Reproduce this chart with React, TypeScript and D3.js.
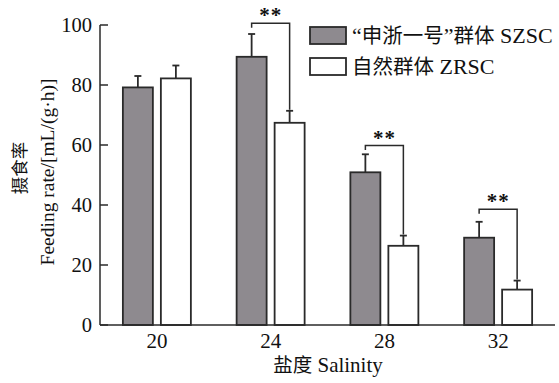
import React from "react";
import * as d3 from "d3";

const categories = ["20", "24", "28", "32"];
const szscMean = [79.2, 89.4, 50.9, 29.1];
const szscErr = [3.8, 7.6, 6.0, 5.3];
const zrscMean = [82.2, 67.4, 26.4, 11.8];
const zrscErr = [4.3, 4.0, 3.4, 3.0];
const yTicks = [0, 20, 40, 60, 80, 100];
// significance brackets: category, bracket level (y value)
const sigCats = ["24", "28", "32"];
const sigLevels = [100.6, 59.8, 38.6];
const sigLabels = ["**", "**", "**"];
// legend names split into pieces: [text, isCJK]
const seriesPieces: [string, boolean][][] = [
  [["“", false], ["申浙一号", true], ["”", false], ["群体", true], [" SZSC", false]],
  [["自然群体", true], [" ZRSC", false]],
];

const W = 559;
const H = 383;
const SERIF = "Liberation Serif";
const CJK = "Noto Sans CJK SC";
const GRAY = "#8e8a8f";
const INK = "#2a2a2a";
const serif = { fontFamily: SERIF };
const cjk = { fontFamily: CJK };

export default function App() {
  const x = d3.scaleBand<string>().domain(categories).range([100, 555]).padding(0);
  const y = d3.scaleLinear().domain([0, 100]).range([325, 25]);
  const barW = 30;
  const gap = 8;
  const cx = (c: string) => (x(c) as number) + x.bandwidth() / 2;
  const sw = 1.8;

  return (
    <svg width={W} height={H} style={{ position: "absolute", left: 0, top: 0, background: "#fff" }}>
      <rect x={0} y={0} width={W} height={H} fill="#fff" />
      {/* bars */}
      {categories.map((c, i) => {
        const gx = cx(c) - gap / 2 - barW;
        const wx = cx(c) + gap / 2;
        const gTop = y(szscMean[i]);
        const wTop = y(zrscMean[i]);
        const gE = y(szscMean[i] + szscErr[i]);
        const wE = y(zrscMean[i] + zrscErr[i]);
        return (
          <g key={c}>
            <line x1={gx + barW / 2} x2={gx + barW / 2} y1={gTop} y2={gE} stroke={INK} strokeWidth={sw} />
            <line x1={gx + barW / 2 - 3.5} x2={gx + barW / 2 + 3.5} y1={gE} y2={gE} stroke={INK} strokeWidth={sw} />
            <line x1={wx + barW / 2} x2={wx + barW / 2} y1={wTop} y2={wE} stroke={INK} strokeWidth={sw} />
            <line x1={wx + barW / 2 - 3.5} x2={wx + barW / 2 + 3.5} y1={wE} y2={wE} stroke={INK} strokeWidth={sw} />
            <rect x={gx} y={gTop} width={barW} height={y(0) - gTop} fill={GRAY} stroke={INK} strokeWidth={sw} />
            <rect x={wx} y={wTop} width={barW} height={y(0) - wTop} fill="#fff" stroke={INK} strokeWidth={sw} />
          </g>
        );
      })}
      {/* significance brackets */}
      {sigCats.map((c, k) => {
        const i = categories.indexOf(c);
        const lx = cx(c) - gap / 2 - barW / 2;
        const rx = cx(c) + gap / 2 + barW / 2;
        const by = y(sigLevels[k]);
        const rEnd = y(zrscMean[i] + zrscErr[i]) - 1;
        return (
          <g key={c}>
            <path d={`M${lx},${by + 4.5}V${by}H${rx}V${rEnd}`} fill="none" stroke={INK} strokeWidth={1.5} />
            <text x={(lx + rx) / 2} y={by - 1} textAnchor="middle" fontSize={21} fontWeight="bold" letterSpacing={1} fill="#111" style={serif}>
              {sigLabels[k]}
            </text>
          </g>
        );
      })}
      {/* axes */}
      <line x1={100} x2={100} y1={y(100)} y2={y(0)} stroke={INK} strokeWidth={1.5} />
      <line x1={100} x2={555} y1={y(0)} y2={y(0)} stroke={INK} strokeWidth={1.5} />
      {yTicks.map((t) => (
        <g key={t}>
          <line x1={100} x2={108} y1={y(t)} y2={y(t)} stroke={INK} strokeWidth={1.5} />
          <text x={92} y={y(t)} dy="0.35em" textAnchor="end" fontSize={20.5} fill="#111" style={serif}>
            {t}
          </text>
        </g>
      ))}
      {categories.map((c) => (
        <text key={c} x={cx(c)} y={348} textAnchor="middle" fontSize={21} fill="#111" style={serif}>
          {c}
        </text>
      ))}
      <text x={328} y={372} textAnchor="middle" fontSize={21} fill="#111" style={serif}>
        <tspan style={cjk} fontSize={19.5}>盐度</tspan>
        <tspan style={serif}> Salinity</tspan>
      </text>
      <g transform="translate(20,168) rotate(-90)">
        <text x={0} y={0} dy="0.35em" textAnchor="middle" fontSize={17.5} fill="#111" style={cjk}>
          摄食率
        </text>
      </g>
      <g transform="translate(47,172) rotate(-90)">
        <text x={0} y={0} dy="0.35em" textAnchor="middle" fontSize={19.5} fill="#111" style={serif}>
          Feeding rate/[mL/(g·h)]
        </text>
      </g>
      {/* legend */}
      {seriesPieces.map((pieces, i) => (
        <g key={i} transform={`translate(310,${27 + i * 31})`}>
          <rect x={0} y={0} width={36} height={17} fill={i === 0 ? GRAY : "#fff"} stroke={INK} strokeWidth={sw} />
          <text x={42} y={8.5} dy="0.35em" fontSize={22} fill="#111" style={serif}>
            {pieces.map(([s, isC], j) => (
              <tspan key={j} style={isC ? cjk : serif} fontSize={isC ? 20.5 : 22}>
                {s}
              </tspan>
            ))}
          </text>
        </g>
      ))}
    </svg>
  );
}
